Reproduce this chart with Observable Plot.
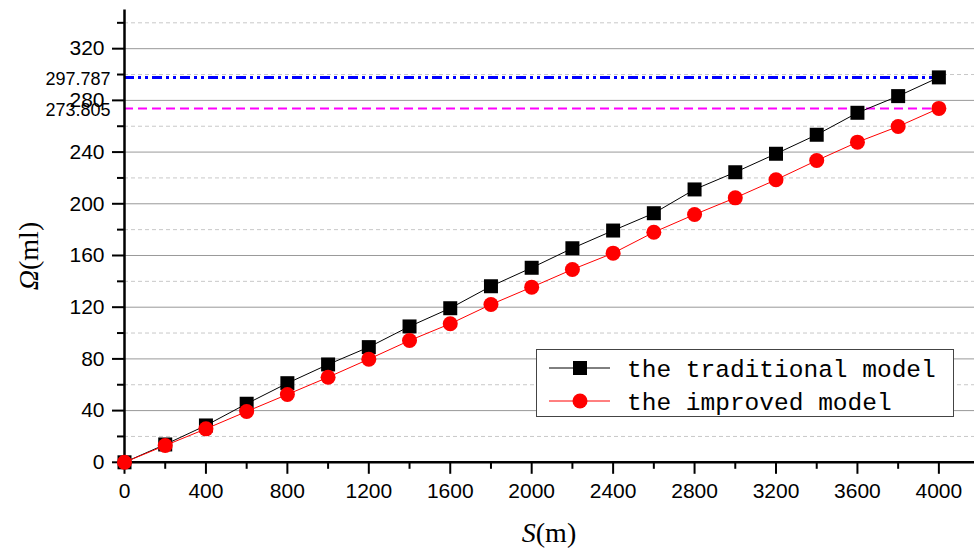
<!DOCTYPE html>
<html><head><meta charset="utf-8">
<script src="https://cdn.jsdelivr.net/npm/d3@7"></script>
<script src="https://cdn.jsdelivr.net/npm/@observablehq/plot@0.6"></script>
<style>
body{margin:0;background:#fff;}
#wrap{position:relative;width:974px;height:550px;overflow:hidden;}
#legend{position:absolute;left:536px;top:349px;width:416px;height:66px;border:1.5px solid #444;background:#fff;}
</style></head><body><div id="wrap"></div>
<script>
const distance = [0,200,400,600,800,1000,1200,1400,1600,1800,2000,2200,2400,2600,2800,3000,3200,3400,3600,3800,4000];
const traditional = [0,13.8,28.5,45.3,61.2,75.7,89.1,105.1,119.2,136.2,150.5,165.6,179.3,192.7,211.1,224.4,238.7,253.4,270.4,283.3,297.787];
const improved = [0,13.0,25.9,39.3,52.5,65.8,79.8,94.2,107.2,122.1,135.5,149.2,161.8,178.0,191.7,204.6,218.6,233.5,247.7,259.8,273.805];
const seriesNames = ["the traditional model","the improved model"];
const refValues = [297.787, 273.805];
const refLabels = ["297.787","273.805"];
const xTicks = [0,400,800,1200,1600,2000,2400,2800,3200,3600,4000];
const xMinor = [200,600,1000,1400,1800,2200,2600,3000,3400,3800];
const yTicks = [0,40,80,120,160,200,240,280,320];
const yMinor = [20,60,100,140,180,220,260,300,340];

const trad = distance.map((s,i)=>({s, v:traditional[i]}));
const imp = distance.map((s,i)=>({s, v:improved[i]}));
const refs = refValues.map((v,i)=>({v, label:refLabels[i]}));

const chart = Plot.plot({
  width: 974, height: 550,
  marginLeft: 124, marginRight: 0, marginTop: 9.4, marginBottom: 88.2,
  style: {fontFamily: "Liberation Sans, Arial, sans-serif", fontSize: "21px", color: "#000", background: "#fff"},
  x: {domain: [0, 4175], label: null},
  y: {domain: [0, 350], label: null},
  marks: [
    Plot.ruleY(yTicks.filter(d=>d>0), {stroke: "#999", strokeWidth: 1}),
    Plot.ruleY(yMinor, {stroke: "#c8c8c8", strokeWidth: 1, strokeDasharray: "4,3"}),
    Plot.ruleY([refValues[0]], {x1: 0, x2: 4000, stroke: "#0000ff", strokeWidth: 3, strokeDasharray: "10,4,3,4,3,4"}),
    Plot.ruleY([refValues[1]], {x1: 0, x2: 4000, stroke: "#ff00ff", strokeWidth: 2, strokeDasharray: "9,5"}),
    Plot.axisX({ticks: xTicks, tickSize: 12, tickPadding: 9, tickFormat: d => String(d), fontSize: 21, strokeWidth: 2, label: null}),
    Plot.axisX({ticks: xMinor, tickSize: 7, text: null, strokeWidth: 2, label: null}),
    Plot.axisY({ticks: yTicks, tickSize: 12, tickPadding: 8, tickFormat: d => String(d), fontSize: 21, strokeWidth: 2, label: null}),
    Plot.axisY({ticks: yMinor, tickSize: 7, text: null, strokeWidth: 2, label: null}),
    Plot.ruleX([0], {stroke: "#000", strokeWidth: 2.5}),
    Plot.ruleY([0], {stroke: "#000", strokeWidth: 2.5}),
    Plot.text(refs, {x: 0, y: "v", text: "label", textAnchor: "end", dx: -14, dy: 2, fontSize: 18}),
    Plot.line(trad, {x: "s", y: "v", stroke: "#000", strokeWidth: 1}),
    Plot.dot(trad, {x: "s", y: "v", symbol: "square", r: 7.9, fill: "#000", stroke: "none"}),
    Plot.line(imp, {x: "s", y: "v", stroke: "#ff0000", strokeWidth: 1}),
    Plot.dot(imp, {x: "s", y: "v", symbol: "circle", r: 7.5, fill: "#ff0000", stroke: "none"})
  ]
});
const wrap = document.getElementById("wrap");
wrap.appendChild(chart);

const svg = d3.select(chart);
// x axis title
const xt = svg.append("text").attr("x", 549).attr("y", 542).attr("text-anchor", "middle")
  .style("font-family", "Liberation Serif, serif").style("font-size", "28px").attr("fill", "#000");
xt.append("tspan").style("font-style", "italic").text("S");
xt.append("tspan").text("(m)");
// y axis title
const yt = svg.append("text").attr("transform", "translate(38,256) rotate(-90)").attr("text-anchor", "middle")
  .style("font-family", "Liberation Serif, serif").style("font-size", "28px").attr("fill", "#000");
yt.append("tspan").style("font-style", "italic").text("Ω");
yt.append("tspan").text("(ml)");

// legend
const leg = document.createElement("div");
leg.id = "legend";
wrap.appendChild(leg);
const ls = d3.select(leg).append("svg").attr("width", 416).attr("height", 66);
const rows = [
  {name: seriesNames[0], color: "#000", sym: "square"},
  {name: seriesNames[1], color: "#ff0000", sym: "circle"}
];
rows.forEach((r, i) => {
  const cy = 18 + i * 33;
  ls.append("line").attr("x1", 12).attr("x2", 73).attr("y1", cy).attr("y2", cy).attr("stroke", r.color).attr("stroke-width", 1);
  if (r.sym === "square") ls.append("rect").attr("x", 43 - 7).attr("y", cy - 7).attr("width", 14).attr("height", 14).attr("fill", r.color);
  else ls.append("circle").attr("cx", 43).attr("cy", cy).attr("r", 7.5).attr("fill", r.color);
  ls.append("text").attr("x", 90).attr("y", cy).attr("dy", "0.35em")
    .style("font-family", "Liberation Mono, monospace").style("font-size", "24.5px").attr("fill", "#000").text(r.name);
});
</script>
</body></html>
